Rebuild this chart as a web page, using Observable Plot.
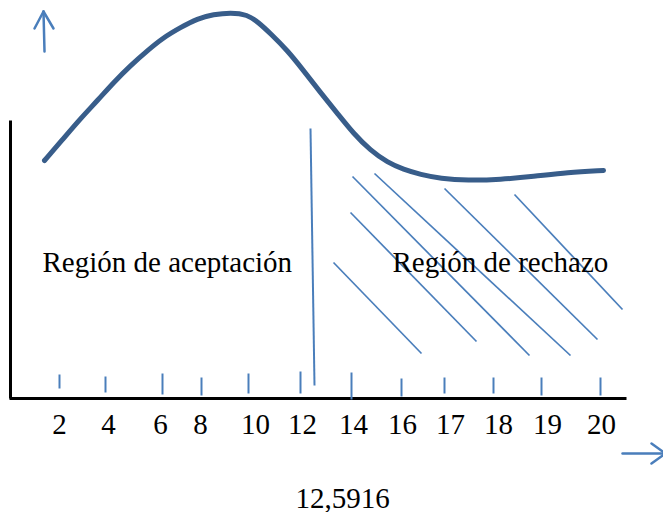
<!DOCTYPE html>
<html>
<head>
<meta charset="utf-8">
<script src="https://cdn.jsdelivr.net/npm/d3@7"></script>
<script src="https://cdn.jsdelivr.net/npm/@observablehq/plot@0.6"></script>
<style>
  html, body { margin: 0; padding: 0; background: #ffffff; }
  #chart { width: 663px; height: 512px; }
</style>
</head>
<body>
<div id="chart"></div>
<script>
// Diagram coordinates (x to the right, y downward).
const curveX = [44, 63, 80, 97, 113, 130, 147, 163, 180, 197, 213, 230, 247, 258, 270, 287, 303, 320, 337, 353, 370, 387, 403, 420, 440, 467, 500, 533, 567, 603];
const curveY = [160, 138, 118, 100, 82, 65, 50, 37, 27, 18, 14, 12, 14, 22, 33, 50, 70, 92, 113, 133, 150, 162, 169, 174, 178, 180, 179, 176, 172, 170];

const tickLabels = ["2", "4", "6", "8", "10", "12", "14", "16", "17", "18", "19", "20"];
const tickX      = [59, 105, 162, 201, 248, 300, 351, 401, 444, 493, 541, 600];
const tickTop    = [374, 376, 373, 377, 373, 371, 372, 378, 377, 377, 377, 377];
const tickBottom = [388, 392, 394, 395, 393, 393, 399, 396, 393, 393, 395, 395];
const labelX     = [59, 108, 160, 200, 255, 302, 353, 402, 450, 498, 547, 601];
const labelY = 433;

const criticalValue = "12,5916";
const criticalX = [310, 314];
const criticalY = [128, 385];

const hatchX1 = [352, 374, 350, 333, 444, 514];
const hatchY1 = [176, 173, 212, 262, 188, 194];
const hatchX2 = [529, 570, 476, 421, 597, 622];
const hatchY2 = [355, 355, 341, 353, 339, 309];

const regionNames = ["Región de aceptación", "Región de rechazo"];
const regionX = [42, 392];
const regionY = [271, 271];

const axisX1 = [10, 9];
const axisY1 = [120, 398];
const axisX2 = [10, 626];
const axisY2 = [398, 398];

// arrow segments: shaft, wing, wing (up arrow), then shaft, wing, wing (right arrow)
const arrowX1 = [44, 34, 53, 622, 651, 651];
const arrowY1 = [51, 28, 28, 453, 443, 463];
const arrowX2 = [43, 43, 43, 665, 665, 665];
const arrowY2 = [11, 11, 11, 453, 453, 453];

const curve = curveX.map((x, i) => ({x, y: curveY[i]}));
const ticks = tickX.map((x, i) => ({x, y1: tickTop[i], y2: tickBottom[i], label: tickLabels[i], lx: labelX[i]}));
const hatch = hatchX1.map((x1, i) => ({x1, y1: hatchY1[i], x2: hatchX2[i], y2: hatchY2[i]}));
const regions = regionNames.map((t, i) => ({t, x: regionX[i], y: regionY[i]}));
const axes = axisX1.map((x1, i) => ({x1, y1: axisY1[i], x2: axisX2[i], y2: axisY2[i]}));
const arrows = arrowX1.map((x1, i) => ({x1, y1: arrowY1[i], x2: arrowX2[i], y2: arrowY2[i]}));
const critical = [{x1: criticalX[0], y1: criticalY[0], x2: criticalX[1], y2: criticalY[1]}];

const font = "'Liberation Serif', 'Times New Roman', serif";
const thin = "#4a7ebb";

const chart = Plot.plot({
  width: 663,
  height: 512,
  margin: 0,
  x: {domain: [0, 663], axis: null},
  y: {domain: [512, 0], axis: null},
  style: {background: "#ffffff", fontFamily: font},
  marks: [
    Plot.link(axes, {x1: "x1", y1: "y1", x2: "x2", y2: "y2", stroke: "#000000", strokeWidth: 3, strokeLinecap: "butt"}),
    Plot.link(ticks, {x1: "x", y1: "y1", x2: "x", y2: "y2", stroke: thin, strokeWidth: 2}),
    Plot.link(critical, {x1: "x1", y1: "y1", x2: "x2", y2: "y2", stroke: thin, strokeWidth: 2}),
    Plot.link(hatch, {x1: "x1", y1: "y1", x2: "x2", y2: "y2", stroke: thin, strokeWidth: 1.7}),
    Plot.link(arrows, {x1: "x1", y1: "y1", x2: "x2", y2: "y2", stroke: thin, strokeWidth: 2.5, strokeLinecap: "round"}),
    Plot.line(curve, {x: "x", y: "y", curve: "basis", stroke: "#385d8a", strokeWidth: 5, strokeLinecap: "round"}),
    Plot.text(ticks, {x: "lx", y: () => labelY, text: "label", fontSize: 29, fontFamily: font, fill: "#000000", textAnchor: "middle", lineAnchor: "bottom"}),
    Plot.text(regions, {x: "x", y: "y", text: "t", fontSize: 29, fontFamily: font, fill: "#000000", textAnchor: "start", lineAnchor: "bottom"}),
    Plot.text([criticalValue], {x: () => 342, y: () => 507, text: d => d, fontSize: 29, fontFamily: font, fill: "#000000", textAnchor: "middle", lineAnchor: "bottom"})
  ]
});
document.getElementById("chart").appendChild(chart);
</script>
</body>
</html>
